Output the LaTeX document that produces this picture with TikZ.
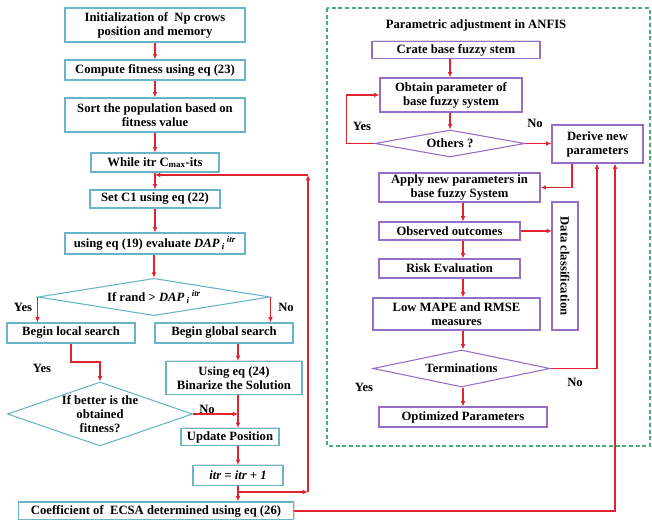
\documentclass[tikz,border=0pt]{standalone}
\usepackage{amsmath}
\usepackage{fontspec}
\setmainfont{Liberation Serif}
\usetikzlibrary{arrows.meta,shapes.geometric,shadows}

\definecolor{tealbox}{RGB}{105,180,200}
\definecolor{purplebox}{RGB}{150,110,200}
\definecolor{flowred}{RGB}{225,35,45}
\definecolor{framegreen}{RGB}{70,175,120}

\tikzset{
  cbox/.style={draw=tealbox,line width=0.8pt,fill=white,align=center,inner sep=0.5pt,
    drop shadow={shadow xshift=1pt,shadow yshift=1pt,opacity=0.25}},
  pbox/.style={draw=purplebox,line width=0.8pt,fill=white,align=center,inner sep=0.5pt,
    drop shadow={shadow xshift=1pt,shadow yshift=1pt,opacity=0.25}},
  cdec/.style={diamond,draw=tealbox,line width=0.8pt,fill=white,align=center,inner sep=0pt},
  pdec/.style={diamond,draw=purplebox,line width=0.8pt,fill=white,align=center,inner sep=0pt},
  arr/.style={draw=flowred,line width=0.8pt,-{Latex[length=4pt,width=3.5pt]}},
  lbl/.style={inner sep=0pt}
}

\begin{document}
\begin{tikzpicture}[x=0.75pt,y=0.75pt,yscale=-1,xscale=1,font=\fontsize{9.5}{10.5}\selectfont\bfseries]
\useasboundingbox (0,0) rectangle (652,520);

%Shape: Frame of the ANFIS part
\draw [framegreen,line width=0.8pt,dash pattern=on 3pt off 2pt] (327,8) rectangle (650,446);

% Left column
\node [cbox,minimum width=135pt,minimum height=25.5pt] (init) at (155,25) {Initialization of~ Np crows\\position and memory};
\node [cbox,minimum width=135pt,minimum height=15pt] (fit) at (155,70) {Compute fitness using eq (23)};
\node [cbox,minimum width=135pt,minimum height=25.5pt] (sort) at (155,115) {Sort the population based on\\fitness value};
\node [cbox,minimum width=96pt,minimum height=14.25pt] (while) at (155,162.5) {While itr C$_{\text{max}}$-its};
\node [cbox,minimum width=97.5pt,minimum height=13.5pt] (setc) at (155,199) {Set C1 using eq (22)};
\node [cbox,minimum width=135pt,minimum height=15.75pt] (evalu) at (155,243.5) {using eq (19) evaluate \textit{DAP}\,\textsubscript{\textit{i}}\,\textsuperscript{\textit{itr}}};
\node [cdec,aspect=6,minimum width=174pt,minimum height=28pt] (rand) at (154,297) {If rand > \textit{DAP}\,\textsubscript{\textit{i}}\,\textsuperscript{\textit{itr}}};
\node [cbox,minimum width=96pt,minimum height=15pt] (local) at (71,333) {Begin local search};
\node [cbox,minimum width=103.5pt,minimum height=15pt] (global) at (224,333) {Begin global search};
\node [cbox,minimum width=102pt,minimum height=24.75pt] (binar) at (234,378) {Using eq (24)\\Binarize the Solution};
\node [cdec,aspect=2.9,inner sep=-5pt,minimum width=138.75pt,minimum height=48pt] (better) at (100,414) {If better is the\\obtained\\fitness?};
\node [cbox,minimum width=73.5pt,minimum height=12.75pt] (update) at (230,437) {Update Position};
\node [cbox,minimum width=67.5pt,minimum height=15pt] (itr) at (238,475.5) {\textit{itr = itr + 1}};
\node [cbox,minimum width=206pt,minimum height=13.5pt] (coef) at (156,511) {Coefficient of~ ECSA determined using eq (26)};

% Right part
\node [lbl] (title) at (476,25) {Parametric adjustment in ANFIS};
\node [pbox,minimum width=126pt,minimum height=12.75pt] (crate) at (456,50) {Crate base fuzzy stem};
\node [pbox,minimum width=106.5pt,minimum height=25.5pt] (obtain) at (451,95) {Obtain parameter of\\base fuzzy system};
\node [pdec,aspect=5.5,minimum width=112.5pt,minimum height=20.25pt] (others) at (450,143.5) {Others ?};
\node [pbox,minimum width=68.25pt,minimum height=28.5pt] (derive) at (597.5,144) {Derive new\\parameters};
\node [pbox,minimum width=120.75pt,minimum height=21.75pt] (apply) at (459.5,187.5) {Apply new parameters in\\base fuzzy System};
\node [pbox,minimum width=105.75pt,minimum height=13.5pt] (observed) at (449.5,231) {Observed outcomes};
\node [pbox,minimum width=96pt,minimum height=19.5pt,rotate=-90] (data) at (565,266) {Data classification};
\node [pbox,minimum width=105.75pt,minimum height=14.25pt] (risk) at (449.5,268.5) {Risk Evaluation};
\node [pbox,minimum width=125.25pt,minimum height=24pt] (lowm) at (456.5,314) {Low MAPE and RMSE\\measures};
\node [pdec,aspect=4.8,minimum width=132.75pt,minimum height=27.75pt] (term) at (461.5,368.5) {Terminations};
\node [pbox,minimum width=126pt,minimum height=15pt] (optim) at (463,417) {Optimized Parameters};

% Labels
\node [lbl] (y1) at (23,307) {Yes};
\node [lbl] (n1) at (286,307) {No};
\node [lbl] (y2) at (42,368) {Yes};
\node [lbl] (n2) at (207,409) {No};
\node [lbl] (y3) at (362,126) {Yes};
\node [lbl] (n3) at (535,123) {No};
\node [lbl] (y4) at (364,387) {Yes};
\node [lbl] (n4) at (575,382) {No};

% Loop points
\coordinate (jn) at (238,492);
\coordinate (jr) at (308,492);
\coordinate (jt) at (308,175);
\coordinate (jl) at (155,175);

% Left connectors
\draw [arr] (init) -- (fit);
\draw [arr] (fit) -- (sort);
\draw [arr] (sort) -- (while);
\draw [arr] (while) -- (setc);
\draw [arr] (setc) -- (evalu);
\draw [arr] (evalu.south -| rand.north) -- (rand.north);
\draw [arr] (rand.west) -- (rand.west |- local.north);
\draw [arr] (rand.east) -- (rand.east |- global.north);
\draw [arr] (local.south) -- (local.south |- 0,362) -| (better.north);
\draw [arr] (global.south -| itr.south) -- (binar.north -| itr.south);
\draw [arr] (binar.south -| itr.south) -- (update.north -| itr.south);
\draw [arr] (better.east) -- (better.east -| itr.south);
\draw [arr] (update.south -| itr.south) -- (itr.north);
\draw [arr] (itr.south) -- (coef.north -| itr.south);
\draw [arr] (jn) -- (jr);
\draw [arr] (jr) -- (jt);
\draw [arr] (jt) -- (jl);
\draw [arr] (coef.east) -| (derive.south -| 615,0);

% Right connectors
\draw [arr] (crate.south -| others.north) -- (obtain.north -| others.north);
\draw [arr] (obtain.south -| others.north) -- (others.north);
\draw [arr] (others.west) -- ++(-28,0) |- (obtain.west);
\draw [arr] (others.east) -- (others.east -| derive.west);
\draw [arr] (derive.south -| 572,0) |- (apply.east);
\draw [arr] (apply.south -| 463,0) -- (observed.north -| 463,0);
\draw [arr] (observed.east) -- (observed.east -| 552,0);
\draw [arr] (observed.south -| 463,0) -- (risk.north -| 463,0);
\draw [arr] (risk.south -| 463,0) -- (lowm.north -| 463,0);
\draw [arr] (lowm.south -| 463,0) -- (term.north -| 463,0);
\draw [arr] (term.south -| 463,0) -- (optim.north -| 463,0);
\draw [arr] (term.east) -| (derive.south -| 597,0);
\end{tikzpicture}
\end{document}
